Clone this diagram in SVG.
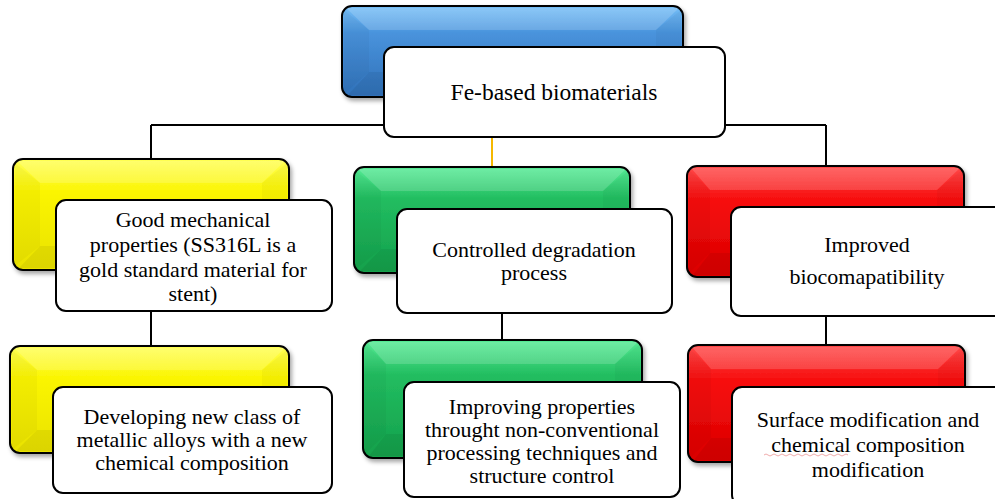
<svg xmlns="http://www.w3.org/2000/svg" width="995" height="499" viewBox="0 0 995 499">
  <style>
    .card { fill: #ffffff; stroke: #000000; stroke-width: 2; }
    .tile { stroke: #000000; stroke-width: 2; filter: url(#shadow); }
    .bev-top { fill: #ffffff; opacity: 0.16; }
    .bev-side { fill: #000000; opacity: 0.03; }
    .bev-bot { fill: #000000; opacity: 0.06; }
    .label { font-family: "Liberation Serif", "DejaVu Serif", "Times New Roman", serif; font-size: 22px; fill: #000000; text-anchor: middle; }
    .title { font-size: 23.5px; }
    .link { stroke: #000000; stroke-width: 2; fill: none; }
    .link-gold { stroke: #f5b800; stroke-width: 2; fill: none; }
  </style>
  <defs>
    <filter id="shadow" x="-10%" y="-10%" width="125%" height="135%">
      <feDropShadow dx="2" dy="3" stdDeviation="2" flood-color="#000000" flood-opacity="0.35"/>
    </filter>
    <linearGradient id="gBlue" x1="0" y1="0" x2="0" y2="1">
      <stop offset="0" stop-color="#76bff7"/>
      <stop offset="0.3" stop-color="#4993dc"/>
      <stop offset="1" stop-color="#2f70b8"/>
    </linearGradient>
    <linearGradient id="gYellow" x1="0" y1="0" x2="0" y2="1">
      <stop offset="0" stop-color="#ffff55"/>
      <stop offset="0.3" stop-color="#fbf500"/>
      <stop offset="1" stop-color="#e9e200"/>
    </linearGradient>
    <linearGradient id="gGreen" x1="0" y1="0" x2="0" y2="1">
      <stop offset="0" stop-color="#55eb95"/>
      <stop offset="0.3" stop-color="#22bd60"/>
      <stop offset="1" stop-color="#14a04b"/>
    </linearGradient>
    <linearGradient id="gRed" x1="0" y1="0" x2="0" y2="1">
      <stop offset="0" stop-color="#ff4a4a"/>
      <stop offset="0.3" stop-color="#f70e0e"/>
      <stop offset="1" stop-color="#da0000"/>
    </linearGradient>
  </defs>

  <!-- connectors, drawn beneath the boxes -->
  <g id="connectors">
    <path class="link" d="M151 125 H826"/>
    <path class="link" d="M151 125 V160"/>
    <path class="link" d="M826 125 V167"/>
    <path class="link-gold" d="M492 137 V168"/>
    <path class="link" d="M151 311 V347"/>
    <path class="link" d="M502 313 V341"/>
    <path class="link" d="M826 316 V346"/>
  </g>

  <!-- root -->
  <g id="root">
    <rect class="tile" x="342" y="6" width="341" height="91" rx="10" fill="url(#gBlue)"/>
    <polygon class="bev-top" points="346,8 679,8 656,30 369,30"/>
    <polygon class="bev-side" points="344,10 369,30 369,72 344,94"/>
    <polygon class="bev-side" points="681,10 656,30 656,72 681,94"/>
    <polygon class="bev-bot" points="348,95 369,72 656,72 677,95"/>
    <rect class="card" x="384" y="47" width="341" height="90" rx="10"/>
    <text class="label title" x="554" y="100">Fe-based biomaterials</text>
  </g>

  <!-- left branch -->
  <g id="mechanical">
    <rect class="tile" x="13" y="159" width="276" height="111" rx="10" fill="url(#gYellow)"/>
    <polygon class="bev-top" points="17,161 285,161 262,183 40,183"/>
    <polygon class="bev-side" points="15,163 40,183 40,246 15,266"/>
    <polygon class="bev-side" points="287,163 262,183 262,246 287,266"/>
    <polygon class="bev-bot" points="19,268 40,246 262,246 283,268"/>
    <rect class="card" x="56" y="200" width="276" height="111" rx="10"/>
    <text class="label" x="193" y="227">Good mechanical</text>
    <text class="label" x="193" y="252">properties (SS316L is a</text>
    <text class="label" x="193" y="277">gold standard material for</text>
    <text class="label" x="193" y="301">stent)</text>
  </g>

  <g id="alloys">
    <rect class="tile" x="10" y="346" width="279" height="107" rx="10" fill="url(#gYellow)"/>
    <polygon class="bev-top" points="14,348 285,348 262,370 37,370"/>
    <polygon class="bev-side" points="12,350 37,370 37,430 12,450"/>
    <polygon class="bev-side" points="287,350 262,370 262,430 287,450"/>
    <polygon class="bev-bot" points="16,451 37,430 262,430 283,451"/>
    <rect class="card" x="53" y="387" width="279" height="106" rx="10"/>
    <text class="label" x="192" y="424">Developing new class of</text>
    <text class="label" x="192" y="447">metallic alloys with a new</text>
    <text class="label" x="192" y="470">chemical composition</text>
  </g>

  <!-- middle branch -->
  <g id="degradation">
    <rect class="tile" x="354" y="167" width="276" height="106" rx="10" fill="url(#gGreen)"/>
    <polygon class="bev-top" points="358,169 626,169 603,191 381,191"/>
    <polygon class="bev-side" points="356,171 381,191 381,249 356,269"/>
    <polygon class="bev-side" points="628,171 603,191 603,249 628,269"/>
    <polygon class="bev-bot" points="360,271 381,249 603,249 624,271"/>
    <rect class="card" x="397" y="209" width="275" height="104" rx="10"/>
    <text class="label" x="534" y="257">Controlled degradation</text>
    <text class="label" x="534" y="280">process</text>
  </g>

  <g id="processing">
    <rect class="tile" x="363" y="340" width="279" height="118" rx="10" fill="url(#gGreen)"/>
    <polygon class="bev-top" points="367,342 638,342 615,364 386,364"/>
    <polygon class="bev-side" points="365,344 386,364 386,434 365,454"/>
    <polygon class="bev-side" points="640,344 615,364 615,434 640,454"/>
    <polygon class="bev-bot" points="369,456 386,434 615,434 636,456"/>
    <rect class="card" x="404" y="382" width="276" height="115" rx="10"/>
    <text class="label" x="542" y="414">Improving properties</text>
    <text class="label" x="542" y="437">throught non-conventional</text>
    <text class="label" x="542" y="460">processing techniques and</text>
    <text class="label" x="542" y="483">structure control</text>
  </g>

  <!-- right branch -->
  <g id="biocompatibility">
    <rect class="tile" x="687" y="166" width="277" height="111" rx="10" fill="url(#gRed)"/>
    <polygon class="bev-top" points="691,168 960,168 937,190 710,190"/>
    <polygon class="bev-side" points="689,170 710,190 710,253 689,273"/>
    <polygon class="bev-side" points="962,170 937,190 937,253 962,273"/>
    <polygon class="bev-bot" points="693,275 710,253 937,253 958,275"/>
    <rect class="card" x="731" y="207" width="274" height="109" rx="10"/>
    <text class="label" x="867" y="252">Improved</text>
    <text class="label" x="867" y="284">biocomapatibility</text>
  </g>

  <g id="surface">
    <rect class="tile" x="688" y="345" width="277" height="117" rx="10" fill="url(#gRed)"/>
    <polygon class="bev-top" points="692,347 961,347 938,369 711,369"/>
    <polygon class="bev-side" points="690,349 711,369 711,438 690,458"/>
    <polygon class="bev-side" points="963,349 938,369 938,438 963,458"/>
    <polygon class="bev-bot" points="694,460 711,438 938,438 959,460"/>
    <rect class="card" x="732" y="387" width="274" height="118" rx="10"/>
    <text class="label" x="868" y="427">Surface modification and</text>
    <text class="label" x="868" y="452">chemical composition</text>
    <text class="label" x="868" y="477">modification</text>
    <path d="M764 455 q2 -2 4 0 t4 0 t4 0 t4 0 t4 0 t4 0 t4 0 t4 0 t4 0 t4 0 t4 0 t4 0 t4 0 t4 0 t4 0 t4 0 t4 0 t4 0 t4 0 t4 0 t4 0" fill="none" stroke="#e05050" stroke-width="0.8" opacity="0.6"/>
  </g>
</svg>
